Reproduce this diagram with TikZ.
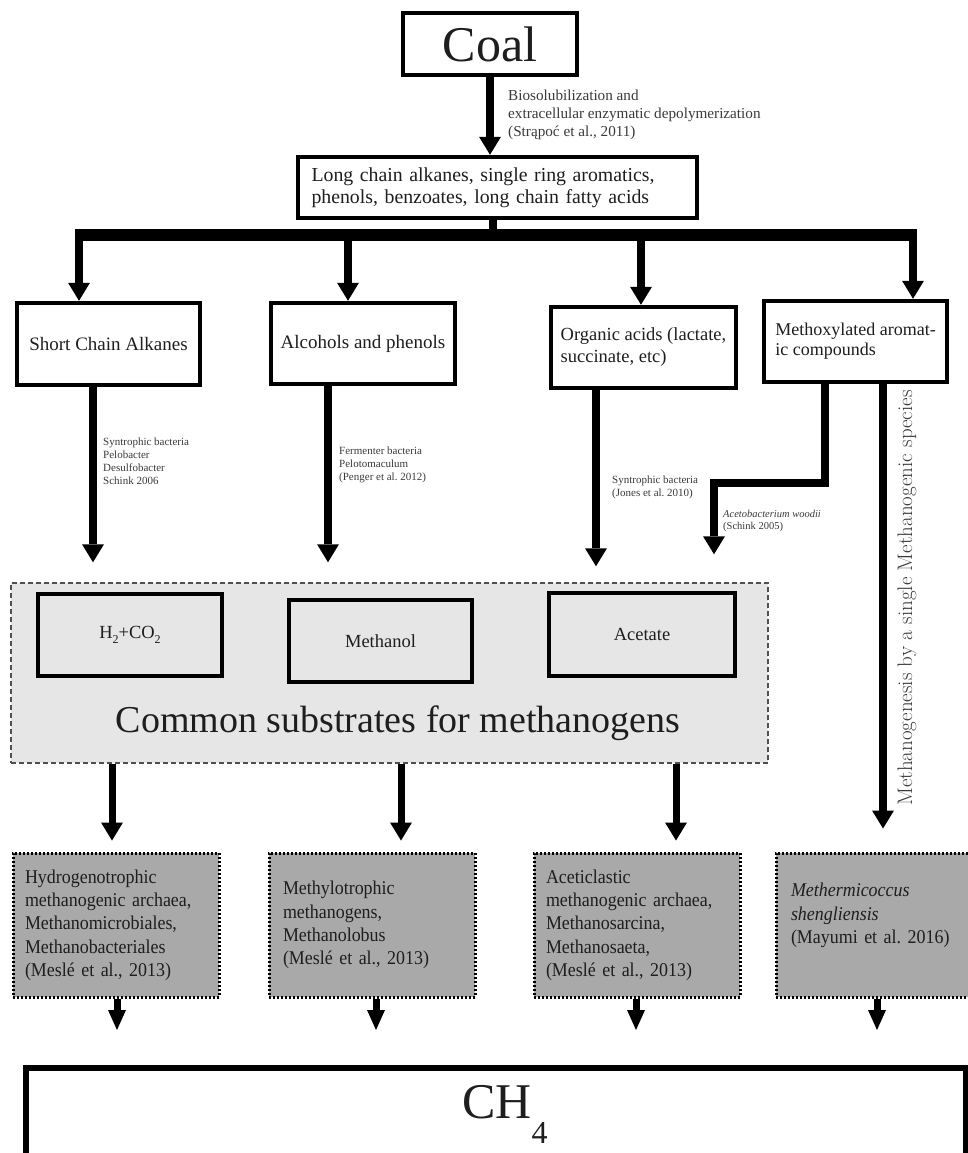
\documentclass[tikz,border=0pt]{standalone}
\usepackage{fontspec}
\newfontfamily\tnr{Liberation Serif}
\newfontfamily\tnrc[FakeStretch=0.92]{Liberation Serif}
\usetikzlibrary{arrows.meta}
\definecolor{subfill}{HTML}{E6E6E6}
\definecolor{dotfill}{HTML}{A9A9A9}
\definecolor{lblgray}{HTML}{3A3A3A}
\definecolor{txt}{HTML}{1E1E1E}
\definecolor{dashgray}{HTML}{505050}
\frenchspacing
\begin{document}
\begin{tikzpicture}[x=1pt,y=-1pt,
  thickbox/.style={draw=black,line width=4.5pt,inner sep=0pt,text=txt},
  subbox/.style={thickbox,fill=subfill},
  dotbox/.style={draw=black,line width=3pt,dash pattern=on 2pt off 2pt,fill=dotfill,inner sep=0pt,text=txt},
  arr/.style={line width=8pt,-{Triangle[length=18pt,width=22pt,line width=0pt]}},
  sarr/.style={line width=7pt,-{Triangle[length=20pt,width=18pt,line width=0pt]}},
  lbl/.style={inner sep=0pt,align=left,text=lblgray,anchor=west},
  boxfont/.style={font=\tnr\fontsize{19}{22}\selectfont},
  lowfont/.style={font=\tnrc\fontsize{19.5}{23.3}\selectfont}]
\useasboundingbox (0,0) rectangle (968,1153);
\clip (0,0) rectangle (968,1153);
\fill[white] (0,0) rectangle (968,1153);

% top
\node[thickbox,minimum width=174pt,minimum height=62pt,font=\tnr\fontsize{50}{52}\selectfont] (coal) at (490,44) {Coal};
\node[thickbox,minimum width=399pt,minimum height=61pt,text width=372pt,align=left,font=\tnr\fontsize{19.8}{22}\selectfont] (lc) at (497.5,187.5) {Long chain alkanes, single ring aromatics,\\phenols, benzoates, long chain fatty acids};
\draw[arr] (coal.south) -- (lc.north -| coal.south);
\node[lbl,font=\tnr\fontsize{15.2}{18}\selectfont] (l0) at (508,115) {Biosolubilization and\\extracellular enzymatic depolymerization\\(Strąpoć et al., 2011)};

% bar
\coordinate (bl) at (75,235);
\coordinate (br) at (917,235);
\coordinate (bj) at (493,235);
\draw[line width=8pt] (lc.south -| bj) -- (bj);
\draw[line width=12pt] (bl) -- (br);

% level 2 boxes
\node[thickbox,boxfont,minimum width=183pt,minimum height=82pt] (b1) at (108.5,344) {Short Chain Alkanes};
\node[thickbox,boxfont,minimum width=184pt,minimum height=81pt] (b2) at (363,343.5) {Alcohols and phenols};
\node[thickbox,font=\tnr\fontsize{18.5}{22}\selectfont,align=left,minimum width=185pt,minimum height=81pt] (b3) at (643.5,347.5) {Organic acids (lactate,\\succinate, etc)};
\node[thickbox,font=\tnr\fontsize{18}{20}\selectfont,align=left,minimum width=183pt,minimum height=81pt] (b4) at (855.5,341.5) {Methoxylated aromat-\\ic compounds};

\coordinate (a1) at (79,235);
\coordinate (a2) at (348,235);
\coordinate (a3) at (641,235);
\coordinate (a4) at (913,235);
\draw[arr] (a1) -- (b1.north -| a1);
\draw[arr] (a2) -- (b2.north -| a2);
\draw[arr] (a3) -- (b3.north -| a3);
\draw[arr] (a4) -- (b4.north -| a4);

% substrate area
\node[draw=dashgray,line width=1.5pt,dash pattern=on 5pt off 3pt,fill=subfill,minimum width=757pt,minimum height=180pt,inner sep=0pt] (sub) at (389.5,673) {};
\node[subbox,font=\tnr\fontsize{18.5}{20}\selectfont,minimum width=184pt,minimum height=82pt] (s1) at (130,635) {H\raisebox{-0.25em}{\fontsize{12}{12}\selectfont 2}+CO\raisebox{-0.25em}{\fontsize{12}{12}\selectfont 2}};
\node[subbox,font=\tnr\fontsize{18.5}{20}\selectfont,minimum width=183pt,minimum height=82pt] (s2) at (380.5,641) {Methanol};
\node[subbox,font=\tnr\fontsize{18.5}{20}\selectfont,minimum width=186pt,minimum height=83pt] (s3) at (642,634.5) {Acetate};
\node[inner sep=0pt,text=txt,font=\tnr\fontsize{38}{40}\selectfont] (subt) at (398,723) {Common substrates for methanogens};

% level 2 -> substrates
\coordinate (x1) at (93,0);
\coordinate (x2) at (328,0);
\coordinate (x3) at (596,0);
\coordinate (x4) at (825,0);
\coordinate (x5) at (714,0);
\coordinate (x6) at (883,0);
\draw[arr,shorten >=20pt] (b1.south -| x1) -- (sub.north -| x1);
\draw[arr,shorten >=20pt] (b2.south -| x2) -- (sub.north -| x2);
\draw[arr,shorten >=16pt] (b3.south -| x3) -- (sub.north -| x3);
\coordinate (k1) at (825,483);
\coordinate (k2) at (714,483);
\draw[arr,shorten >=28pt] (b4.south -| x4) -- (k1) -- (k2) -- (sub.north -| x5);

\node[lbl,font=\tnr\fontsize{11}{13}\selectfont] (l1) at (103,461.5) {Syntrophic bacteria\\Pelobacter\\Desulfobacter\\Schink 2006};
\node[lbl,font=\tnr\fontsize{11}{13}\selectfont] (l2) at (339,464.5) {Fermenter bacteria\\Pelotomaculum\\(Penger et al. 2012)};
\node[lbl,font=\tnr\fontsize{11}{13}\selectfont] (l3) at (612,487) {Syntrophic bacteria\\(Jones et al. 2010)};
\node[lbl,font=\tnr\fontsize{10.5}{12}\selectfont] (l4) at (723,521) {\textit{Acetobacterium woodii}\\(Schink 2005)};

% lower boxes
\node[dotbox,lowfont,minimum width=206pt,minimum height=144pt,text width=182pt,align=left] (m1) at (116,925) {Hydrogenotrophic\\methanogenic archaea,\\Methanomicrobiales,\\Methanobacteriales\\(Meslé et al., 2013)};
\node[dotbox,lowfont,minimum width=206pt,minimum height=144pt,text width=178pt,align=left] (m2) at (372,925) {Methylotrophic\\methanogens,\\Methanolobus\\(Meslé et al., 2013)};
\node[dotbox,lowfont,minimum width=206pt,minimum height=144pt,text width=182pt,align=left] (m3) at (637,925) {Aceticlastic\\methanogenic archaea,\\Methanosarcina,\\Methanosaeta,\\(Meslé et al., 2013)};
\node[dotbox,lowfont,minimum width=206pt,minimum height=144pt,text width=176pt,align=left] (m4) at (879,925) {\textit{Methermicoccus}\\\textit{shengliensis}\\(Mayumi et al. 2016)\\~};

\coordinate (y1) at (112,0);
\coordinate (y2) at (401,0);
\coordinate (y3) at (676,0);
\draw[arr,line width=7pt,shorten >=11pt] (sub.south -| y1) -- (m1.north -| y1);
\draw[arr,line width=7pt,shorten >=11pt] (sub.south -| y2) -- (m2.north -| y2);
\draw[arr,line width=7pt,shorten >=11pt] (sub.south -| y3) -- (m3.north -| y3);
\draw[arr,shorten >=23pt] (b4.south -| x6) -- (m4.north -| x6);
\node[rotate=90,inner sep=0pt,text=lblgray,font=\fontsize{21}{21}\selectfont] (vl) at (907,598) {Methanogenesis by a single Methanogenic species};

% CH4
\node[draw=black,line width=6pt,minimum width=940pt,minimum height=160pt,inner sep=0pt] (ch) at (496,1148) {};
\node[inner sep=0pt,text=txt,font=\tnr\fontsize{50}{52}\selectfont] (cht) at (505,1114) {CH\raisebox{-0.5em}{\fontsize{32}{32}\selectfont 4}};

\coordinate (z1) at (117,0);
\coordinate (z2) at (376,0);
\coordinate (z3) at (636,0);
\coordinate (z4) at (877,0);
\draw[sarr,shorten >=35pt] (m1.south -| z1) -- (ch.north -| z1);
\draw[sarr,shorten >=35pt] (m2.south -| z2) -- (ch.north -| z2);
\draw[sarr,shorten >=35pt] (m3.south -| z3) -- (ch.north -| z3);
\draw[sarr,shorten >=35pt] (m4.south -| z4) -- (ch.north -| z4);
\end{tikzpicture}
\end{document}
